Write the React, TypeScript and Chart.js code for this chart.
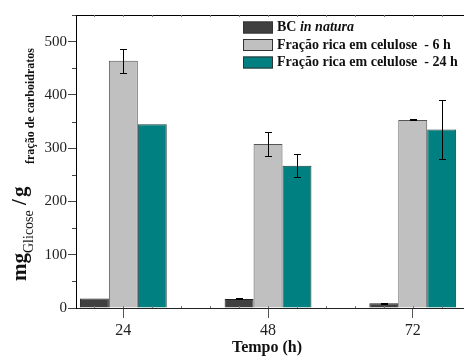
import React, { useEffect, useRef } from "react";
import { Chart, registerables } from "chart.js";

Chart.register(...registerables);

const categories = [24, 48, 72];
const seriesLabels = ["BC ", "Fração rica em celulose  - 6 h", "Fração rica em celulose  - 24 h"];
const bcValues = [18, 17, 9];
const bcErr = [0, 1, 1];
const frac6Values = [464, 308, 353];
const frac6Err = [23, 22, 1];
const frac24Values = [345, 267, 335];
const frac24Err = [0, 22, 56];
const yTickValues = [0, 100, 200, 300, 400, 500];
const yMinorValues = [50, 150, 250, 350, 450, 550];

const X_MIN = 16.15;
const X_MAX = 80.5;
const Y_MAX = 550;

const colors = ["#404040", "#c0c0c0", "#008080"];
const borders = ["#222222", "#555555", "#1c3a3a"];
const errs = [bcErr, frac6Err, frac24Err];

const SERIF = "'Liberation Serif', 'Times New Roman', serif";

const decorPlugin = {
  id: "decor",
  afterDraw(chart: any) {
    const ctx = chart.ctx as CanvasRenderingContext2D;
    const ca = chart.chartArea;
    const xs = chart.scales.x;
    const ys = chart.scales.y;
    ctx.save();
    // top border
    ctx.strokeStyle = "#000";
    ctx.lineWidth = 1;
    ctx.beginPath();
    ctx.moveTo(ca.left, ca.top + 0.5);
    ctx.lineTo(ca.right, ca.top + 0.5);
    ctx.stroke();
    // x minor ticks (inward) bottom and top
    ctx.strokeStyle = "#777";
    for (let v = 24 - 4.8 * 2; v <= X_MAX; v += 4.8) {
      if (v < X_MIN) continue;
      const px = Math.round(xs.getPixelForValue(v)) + 0.5;
      ctx.beginPath();
      ctx.moveTo(px, ca.bottom);
      ctx.lineTo(px, ca.bottom - 2);
      ctx.moveTo(px, ca.top);
      ctx.lineTo(px, ca.top + 2);
      ctx.stroke();
    }
    // y minor ticks (outward)
    ctx.strokeStyle = "#444";
    yMinorValues.forEach((v) => {
      const py = Math.round(ys.getPixelForValue(v)) + 0.5;
      ctx.beginPath();
      ctx.moveTo(ca.left, py);
      ctx.lineTo(ca.left - 4, py);
      ctx.stroke();
    });
    // error bars
    ctx.strokeStyle = "#000";
    chart.data.datasets.forEach((ds: any, i: number) => {
      const meta = chart.getDatasetMeta(i);
      meta.data.forEach((el: any, j: number) => {
        const e = errs[i][j];
        if (!e) return;
        const v = ds.data[j].y;
        const yt = Math.round(ys.getPixelForValue(v + e)) + 0.5;
        const yb = Math.round(ys.getPixelForValue(v - e)) + 0.5;
        const x = Math.round(el.x) + 0.5;
        ctx.beginPath();
        ctx.moveTo(x, yt);
        ctx.lineTo(x, yb);
        ctx.moveTo(x - 3.5, yt);
        ctx.lineTo(x + 3.5, yt);
        ctx.moveTo(x - 3.5, yb);
        ctx.lineTo(x + 3.5, yb);
        ctx.stroke();
      });
    });
    // legend
    const rows = [27.5, 45, 62.5];
    rows.forEach((cy, i) => {
      ctx.fillStyle = colors[i];
      ctx.fillRect(243, cy - 6, 30, 12);
      ctx.strokeStyle = "#333";
      ctx.strokeRect(243.5, cy - 5.5, 29, 11);
      ctx.fillStyle = "#111";
      ctx.textBaseline = "middle";
      ctx.textAlign = "left";
      ctx.font = `bold 14px ${SERIF}`;
      ctx.fillText(seriesLabels[i], 277, cy);
      if (i === 0) {
        const w = ctx.measureText(seriesLabels[0]).width;
        ctx.font = `italic bold 14px ${SERIF}`;
        ctx.fillText("in natura", 277 + w, cy);
      }
    });
    // x title
    ctx.fillStyle = "#111";
    ctx.font = `bold 16px ${SERIF}`;
    ctx.textAlign = "center";
    ctx.textBaseline = "middle";
    ctx.fillText("Tempo (h)", 267, 348);
    // y title (rotated)
    ctx.save();
    ctx.rotate(-Math.PI / 2);
    ctx.textAlign = "left";
    ctx.textBaseline = "alphabetic";
    ctx.font = `bold 21px ${SERIF}`;
    ctx.fillText("mg", -281, 26);
    ctx.font = `14px ${SERIF}`;
    ctx.fillText("Glicose", -253, 33);
    ctx.font = `bold 21px ${SERIF}`;
    ctx.fillText("/", -205, 26);
    ctx.fillText("g", -197, 26);
    ctx.font = `bold 12px ${SERIF}`;
    ctx.fillText("fração de carboidratos", -164, 34);
    ctx.restore();
    ctx.restore();
  },
};

export default function App() {
  const ref = useRef<HTMLCanvasElement>(null);
  useEffect(() => {
    if (!ref.current) return;
    const mk = (vals: number[]) => vals.map((y, i) => ({ x: categories[i], y }));
    const chart = new Chart(ref.current, {
      type: "bar",
      data: {
        datasets: [bcValues, frac6Values, frac24Values].map((vals, i) => ({
          label: seriesLabels[i],
          data: mk(vals),
          backgroundColor: colors[i],
          borderColor: borders[i],
          borderWidth: 1,
          categoryPercentage: 0.6,
          barPercentage: 1,
        })),
      },
      options: {
        animation: false,
        responsive: false,
        layout: { padding: { top: 15, left: 0, right: 0, bottom: 0 } },
        plugins: { legend: { display: false }, tooltip: { enabled: false } },
        scales: {
          x: {
            type: "linear",
            offset: false,
            min: X_MIN,
            max: X_MAX,
            afterBuildTicks: (s: any) => {
              s.ticks = categories.map((v) => ({ value: v }));
            },
            afterFit: (s: any) => {
              s.height = 48;
            },
            grid: { offset: false, drawOnChartArea: false, tickLength: 10, color: "#555" },
            border: { color: "#222" },
            ticks: {
              font: { family: SERIF, size: 16 },
              color: "#222",
              padding: 3,
              maxRotation: 0,
            },
          },
          y: {
            min: 0,
            max: Y_MAX,
            afterBuildTicks: (s: any) => {
              s.ticks = yTickValues.map((v) => ({ value: v }));
            },
            afterFit: (s: any) => {
              s.width = 76;
            },
            grid: { drawOnChartArea: false, tickLength: 8, color: "#444" },
            border: { color: "#000" },
            ticks: {
              font: { family: SERIF, size: 15 },
              color: "#222",
              padding: 1,
            },
          },
        },
      },
      plugins: [decorPlugin],
    });
    return () => chart.destroy();
  }, []);
  return (
    <canvas
      ref={ref}
      width={464}
      height={356}
      style={{ position: "fixed", left: 0, top: 0, width: 464, height: 356 }}
    />
  );
}
